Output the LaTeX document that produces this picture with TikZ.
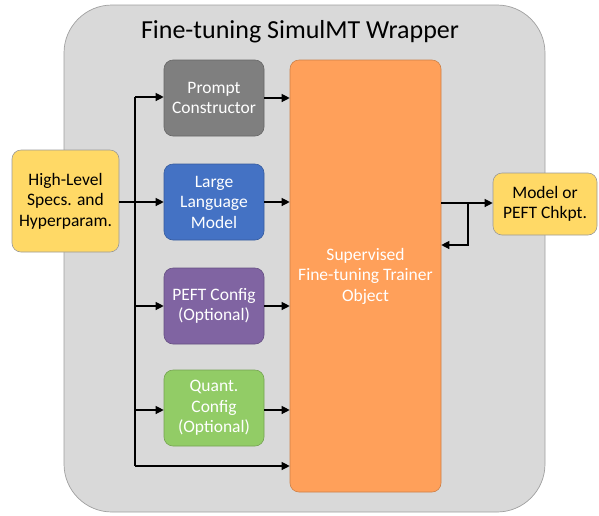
\documentclass[tikz,border=0pt]{standalone}
\usepackage{fontspec}
\setmainfont{Carlito}
\usetikzlibrary{arrows.meta}
\definecolor{outerfill}{HTML}{D9D9D9}
\definecolor{outerline}{HTML}{A0A0A0}
\definecolor{promptc}{HTML}{7F7F7F}
\definecolor{llmc}{HTML}{4472C4}
\definecolor{peftc}{HTML}{8064A2}
\definecolor{quantc}{HTML}{92CC66}
\definecolor{orangec}{HTML}{FFA05A}
\definecolor{yellowc}{HTML}{FFD966}
\tikzset{
  box/.style={draw, rounded corners=9pt, align=center, inner sep=0pt,
    font=\fontsize{17.5}{20.5}\selectfont, line width=0.6pt},
  smallbox/.style={box, minimum width=100pt, minimum height=76pt, text=white},
  conn/.style={line width=1.2pt, -{Triangle[length=8pt,width=8pt]}},
  plain/.style={line width=1.2pt},
}
\begin{document}
\begin{tikzpicture}[x=1pt,y=-1pt]
\useasboundingbox (0,0) rectangle (599,515);
% outer wrapper
\draw[fill=outerfill, draw=outerline, line width=0.7pt, rounded corners=48pt] (64,5) rectangle (545,512);
\node[font=\fontsize{26}{30}\selectfont] (title) at (300,32) {Fine-tuning SimulMT Wrapper};
% boxes
\node[smallbox, fill=promptc, draw=promptc!80!black] (prompt) at (214,98) {Prompt\\Constructor};
\node[smallbox, fill=llmc, draw=llmc!80!black] (llm) at (214,202) {Large\\Language\\Model};
\node[smallbox, fill=peftc, draw=peftc!80!black] (peft) at (214,306) {PEFT Config\\(Optional)};
\node[smallbox, fill=quantc, draw=quantc!80!black] (quant) at (214,408) {Quant.\\Config\\(Optional)};
\node[box, fill=orangec, draw=orangec!80!black, text=white, minimum width=151pt, minimum height=432pt] (sft) at (365.5,276) {Supervised\\Fine-tuning Trainer\\Object};
\node[box, fill=yellowc, draw=black!40, minimum width=107pt, minimum height=102pt] (spec) at (65.5,201) {High-Level\\Specs. and\\Hyperparam.};
\node[box, fill=yellowc, draw=black!40, minimum width=104pt, minimum height=62pt] (out) at (545,204) {Model or\\PEFT Chkpt.};
% bus
\coordinate (bustop) at (135,97);
\coordinate (busbot) at (135,466);
\draw[plain] (bustop) -- (busbot);
\draw[conn] (spec.east |- 0,202) -- (llm.west |- 0,202);
\draw[conn] (bustop) -- (prompt.west |- bustop);
\draw[conn] (135,306) -- (peft.west |- 0,306);
\draw[conn] (135,410) -- (quant.west |- 0,410);
\draw[conn] (busbot) -- (sft.west |- busbot);
% outputs into trainer
\draw[conn] (prompt.east) -- (sft.west |- prompt.east);
\draw[conn] (llm.east) -- (sft.west |- llm.east);
\draw[conn] (peft.east) -- (sft.west |- peft.east);
\draw[conn] (quant.east |- 0,410) -- (sft.west |- 0,410);
% trainer to output
\draw[conn] (sft.east |- 0,203) -- (out.west |- 0,203);
\coordinate (loop) at (468,203);
\draw[conn] (loop) -- (468,245) -- (sft.east |- 0,245);
\end{tikzpicture}
\end{document}
